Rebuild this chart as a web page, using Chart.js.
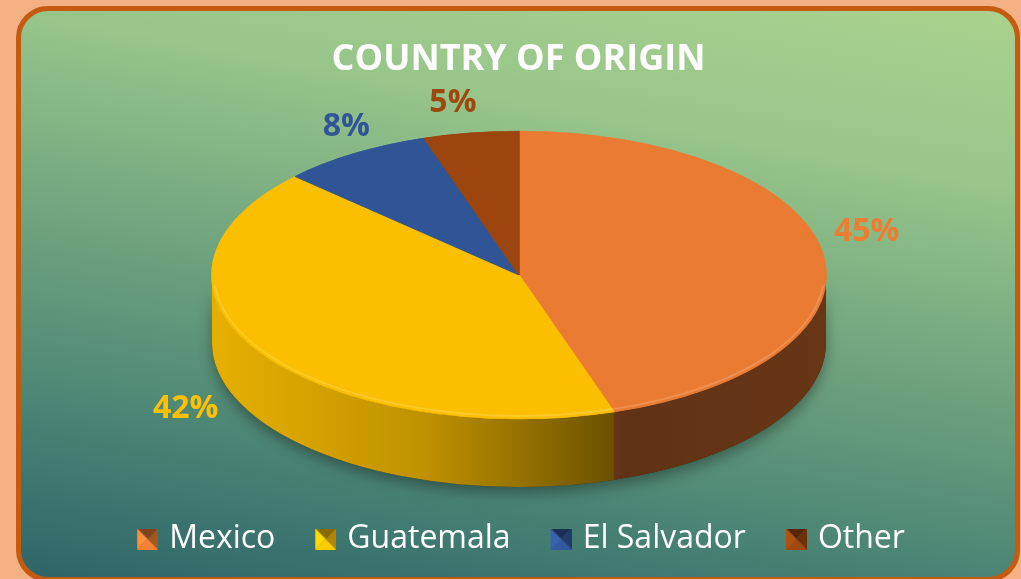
<!DOCTYPE html>
<html>
<head>
<meta charset="utf-8">
<script src="https://cdn.jsdelivr.net/npm/chart.js@4.4.1/dist/chart.umd.min.js"></script>
<style>
  html, body { margin: 0; padding: 0; }
  body { width: 1021px; height: 579px; background: #F4B183; position: relative; overflow: hidden; }
  #panel {
    position: absolute; left: 16px; top: 6px; width: 1004px; height: 576px;
    box-sizing: border-box; border: 5px solid #C55A11; border-radius: 32px;
    background: linear-gradient(190deg, #AAD28E 0%, #97C58A 24%, #4A8474 77%, #2D6568 100%);
  }
  canvas { position: absolute; left: 0; top: 0; }
</style>
</head>
<body>
<div id="panel"></div>
<canvas id="chart" width="1021" height="579"></canvas>
<script>
const categories = ['Mexico', 'Guatemala', 'El Salvador', 'Other'];
const shares = [45, 42, 8, 5];
const sliceColors = ['#EA7B32', '#FBBF00', '#2F5597', '#9C450E'];
const labelColors = ['#ED7D31', '#FFC000', '#2F5597', '#9E480E'];

// where the tilted pie sits on the page
const TOP = { x: 519, y: 275, rx: 307, ry: 144, depth: 68 };

function shade(hex, f) {
  const n = parseInt(hex.slice(1), 16);
  const r = Math.min(255, Math.round(((n >> 16) & 255) * f));
  const g = Math.min(255, Math.round(((n >> 8) & 255) * f));
  const b = Math.min(255, Math.round((n & 255) * f));
  return `rgb(${r},${g},${b})`;
}

// small bevelled squares for the legend (left margin keeps the box close to its text)
function legendBox(color) {
  const c = document.createElement('canvas');
  c.width = 31; c.height = 21;
  const x = c.getContext('2d');
  x.translate(10, 0);
  const tri = (pts, col) => {
    x.beginPath();
    x.moveTo(pts[0], pts[1]);
    for (let i = 2; i < pts.length; i += 2) x.lineTo(pts[i], pts[i + 1]);
    x.closePath();
    x.fillStyle = col;
    x.fill();
  };
  tri([0, 0, 21, 0, 10.5, 10.5], shade(color, 0.55));
  tri([0, 21, 21, 21, 10.5, 10.5], shade(color, 1.05));
  tri([0, 0, 0, 21, 10.5, 10.5], shade(color, 1.15));
  tri([21, 0, 21, 21, 10.5, 10.5], shade(color, 0.7));
  return c;
}
const legendBoxes = sliceColors.map(legendBox);

const pie3d = {
  id: 'pie3d',
  beforeDatasetsDraw(chart) {
    const ctx = chart.ctx;
    const arcs = chart.getDatasetMeta(0).data;
    const { x: cx, y: cy, rx, ry, depth } = TOP;

    // soft shadow under the pie
    ctx.save();
    ctx.shadowColor = 'rgba(0,0,0,0.35)';
    ctx.shadowBlur = 14;
    ctx.shadowOffsetY = 6;
    ctx.beginPath();
    ctx.ellipse(cx, cy, rx, ry, 0, 0, Math.PI);
    ctx.ellipse(cx, cy + depth, rx, ry, 0, Math.PI, 0, true);
    ctx.closePath();
    ctx.fillStyle = 'rgba(60,50,20,1)';
    ctx.fill();
    ctx.restore();

    // side walls of the front half
    ctx.save();
    arcs.forEach((arc, i) => {
      const a = Math.max(arc.startAngle, 0);
      const b = Math.min(arc.endAngle, Math.PI);
      if (b <= a) return;
      const base = sliceColors[i];
      const g = ctx.createLinearGradient(cx - rx, 0, cx + rx, 0);
      g.addColorStop(0, shade(base, 0.92));
      g.addColorStop(0.35, shade(base, 0.76));
      g.addColorStop(0.67, shade(base, 0.41));
      g.addColorStop(1, shade(base, 0.44));
      ctx.beginPath();
      ctx.ellipse(cx, cy, rx, ry, 0, a, b);
      ctx.ellipse(cx, cy + depth, rx, ry, 0, b, a, true);
      ctx.closePath();
      ctx.fillStyle = g;
      ctx.fill();
    });
    ctx.restore();

    // squash the library's round pie onto the ellipse
    const R = arcs[0].outerRadius;
    ctx.save();
    ctx.translate(cx, cy);
    ctx.scale(rx / R, ry / R);
    ctx.translate(-arcs[0].x, -arcs[0].y);
  },
  afterDatasetsDraw(chart) {
    const ctx = chart.ctx;
    ctx.restore();
    const { x: cx, y: cy, rx, ry } = TOP;
    // faint bevel rim along the front edge of the top face
    ctx.save();
    ctx.beginPath();
    ctx.ellipse(cx, cy - 1, rx - 2, ry - 2, 0, 0.08, Math.PI - 0.08);
    ctx.strokeStyle = 'rgba(255,255,255,0.16)';
    ctx.lineWidth = 2;
    ctx.stroke();
    ctx.restore();
  },
  afterDraw(chart) {
    const ctx = chart.ctx;
    const arcs = chart.getDatasetMeta(0).data;
    const { x: cx, y: cy, rx, ry, depth } = TOP;
    const total = shares.reduce((s, v) => s + v, 0);
    ctx.save();
    ctx.font = 'bold 32px "Open Sans"';
    ctx.textAlign = 'center';
    ctx.textBaseline = 'middle';
    arcs.forEach((arc, i) => {
      const m = (arc.startAngle + arc.endAngle) / 2;
      const s = Math.sin(m);
      const c = Math.cos(m);
      // best-fit style: the two small top labels sit a little closer together
      let lx = cx + (rx + 45 + 80 * Math.max(s, 0)) * c;
      if (s < -0.8) lx += c < -0.3 ? 16 : -11;
      const ly = cy + (ry - 5) * s - 35 + 14 * c * c + (s > 0 ? depth + 30 * s : 0);
      ctx.fillStyle = labelColors[i];
      ctx.fillText(Math.round(shares[i] / total * 100) + '%', lx, ly);
    });
    ctx.restore();
  }
};

new Chart(document.getElementById('chart'), {
  type: 'pie',
  data: {
    labels: categories,
    datasets: [{
      data: shares,
      backgroundColor: sliceColors,
      borderColor: sliceColors,
      borderWidth: 1,
      hoverOffset: 0
    }]
  },
  options: {
    responsive: false,
    animation: false,
    events: [],
    layout: { padding: { left: 16, right: 0, top: 0, bottom: 14 } },
    plugins: {
      title: {
        display: true,
        text: 'COUNTRY OF ORIGIN',
        color: '#FFFFFF',
        font: { family: '"Open Sans"', size: 36, weight: 'bold' },
        padding: { top: 38, bottom: 20 }
      },
      legend: {
        position: 'bottom',
        labels: {
          color: '#FFFFFF',
          font: { family: '"Open Sans"', size: 32 },
          usePointStyle: true,
          boxWidth: 21,
          boxHeight: 21,
          padding: 35,
          generateLabels: () => categories.map((name, i) => ({
            text: name,
            fillStyle: sliceColors[i],
            strokeStyle: sliceColors[i],
            lineWidth: 0,
            pointStyle: legendBoxes[i],
            fontColor: '#FFFFFF',
            hidden: false,
            index: i
          }))
        }
      },
      tooltip: { enabled: false }
    }
  },
  plugins: [pie3d]
});
</script>
</body>
</html>
